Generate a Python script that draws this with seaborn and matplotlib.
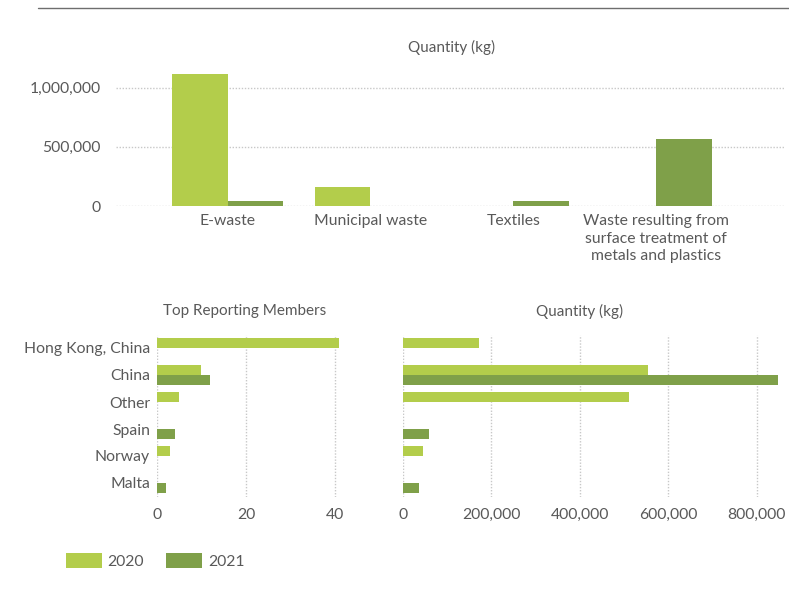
import matplotlib
matplotlib.use("Agg")
import matplotlib.pyplot as plt
from matplotlib.patches import Patch
from matplotlib.lines import Line2D
from matplotlib.ticker import FuncFormatter
import seaborn as sns
import pandas as pd

# ---- data ----
years = ["2020", "2021"]
waste_types = ["E-waste", "Municipal waste", "Textiles",
               "Waste resulting from\nsurface treatment of\nmetals and plastics"]
waste_qty_2020 = [1118000, 161000, 0, 0]
waste_qty_2021 = [42000, 0, 42000, 568000]

members = ["Hong Kong, China", "China", "Other", "Spain", "Norway", "Malta"]
member_count_2020 = [41, 10, 5, 0, 3, 0]
member_count_2021 = [0, 12, 0, 4, 0, 2]
member_qty_2020 = [172000, 553000, 511000, 0, 45000, 0]
member_qty_2021 = [0, 847000, 0, 59000, 0, 36000]

colors = {"2020": "#b3cd4b", "2021": "#7fa049"}
text_color = "#595959"

sns.set_theme(style="white")
plt.rcParams["font.family"] = ["Lato", "DejaVu Sans"]
plt.rcParams["text.color"] = text_color
plt.rcParams["xtick.color"] = text_color
plt.rcParams["ytick.color"] = text_color

df_top = pd.DataFrame({
    "type": waste_types * 2,
    "year": [years[0]] * len(waste_types) + [years[1]] * len(waste_types),
    "qty": waste_qty_2020 + waste_qty_2021,
})
df_cnt = pd.DataFrame({
    "member": members * 2,
    "year": [years[0]] * len(members) + [years[1]] * len(members),
    "count": member_count_2020 + member_count_2021,
})
df_qty = pd.DataFrame({
    "member": members * 2,
    "year": [years[0]] * len(members) + [years[1]] * len(members),
    "qty": member_qty_2020 + member_qty_2021,
})

W, H = 789, 591
fig = plt.figure(figsize=(W / 100, H / 100), dpi=100)

def box(x0, y0, x1, y1):
    return [x0 / W, 1 - y1 / H, (x1 - x0) / W, (y1 - y0) / H]

grid_kw = dict(color="#c8c8c8", linestyle=(0, (1, 1.2)), linewidth=1)
thousands = FuncFormatter(lambda v, p: f"{int(v):,}")

# ---- top chart ----
ax1 = fig.add_axes(box(116, 70, 785, 206))
sns.barplot(data=df_top, x="type", y="qty", hue="year", palette=colors,
            hue_order=years, order=waste_types, width=0.78, linewidth=0,
            saturation=1, legend=False, ax=ax1)
ax1.set_ylim(0, 1150000)
ax1.set_xlim(-0.78, 3.9)
ax1.set_yticks([0, 500000, 1000000])
ax1.yaxis.set_major_formatter(thousands)
ax1.yaxis.grid(True, **grid_kw)
ax1.set_axisbelow(True)
ax1.set_xlabel("")
ax1.set_ylabel("")
for s in ax1.spines.values():
    s.set_visible(False)
ax1.tick_params(axis="y", length=0, pad=11, labelsize=11.3)
ax1.tick_params(axis="x", length=0, pad=6, labelsize=11.3)
for lbl in ax1.get_xticklabels():
    lbl.set_verticalalignment("top")
    lbl.set_linespacing(1.32)
fig.text(452 / W, 1 - 47 / H, "Quantity (kg)", ha="center", va="center",
         fontsize=11, color=text_color)

# ---- bottom-left: count ----
ax2 = fig.add_axes(box(157, 334.5, 346, 496.5))
sns.barplot(data=df_cnt, y="member", x="count", hue="year", palette=colors,
            hue_order=years, order=members, orient="h", width=0.72,
            linewidth=0, saturation=1, legend=False, ax=ax2)
ax2.set_xlim(0, 42.5)
ax2.set_xticks([0, 20, 40])
ax2.xaxis.grid(True, **grid_kw)
ax2.set_axisbelow(True)
ax2.set_xlabel("")
ax2.set_ylabel("")
for s in ax2.spines.values():
    s.set_visible(False)
ax2.tick_params(axis="y", length=0, pad=5, labelsize=11.3)
ax2.tick_params(axis="x", length=0, pad=8, labelsize=11.3)
fig.text(245 / W, 1 - 311 / H, "Top Reporting Members", ha="center",
         va="center", fontsize=11, color=text_color)

# ---- bottom-right: quantity ----
ax3 = fig.add_axes(box(403, 334.5, 779, 496.5))
sns.barplot(data=df_qty, y="member", x="qty", hue="year", palette=colors,
            hue_order=years, order=members, orient="h", width=0.72,
            linewidth=0, saturation=1, legend=False, ax=ax3)
ax3.set_xlim(0, 850000)
ax3.set_xticks([0, 200000, 400000, 600000, 800000])
ax3.xaxis.set_major_formatter(thousands)
ax3.xaxis.grid(True, **grid_kw)
ax3.set_axisbelow(True)
ax3.set_yticklabels([])
ax3.set_xlabel("")
ax3.set_ylabel("")
for s in ax3.spines.values():
    s.set_visible(False)
ax3.tick_params(axis="y", length=0)
ax3.tick_params(axis="x", length=0, pad=8, labelsize=11.3)
fig.text(580 / W, 1 - 311 / H, "Quantity (kg)", ha="center", va="center",
         fontsize=11, color=text_color)

# ---- top rule ----
fig.add_artist(Line2D([38 / W, 1.0], [1 - 8 / H, 1 - 8 / H],
                      color="#6e6e6e", linewidth=1.0))

# ---- legend ----
handles = [Patch(facecolor=colors[y], edgecolor="none", label=y) for y in years]
fig.legend(handles=handles, loc="center left",
           bbox_to_anchor=(52 / W, 1 - 561 / H), ncol=2, frameon=False,
           handlelength=2.3, handleheight=1.1, handletextpad=0.35,
           columnspacing=1.4, fontsize=11.3, labelcolor=text_color)

fig.savefig("out.png", dpi=100)
